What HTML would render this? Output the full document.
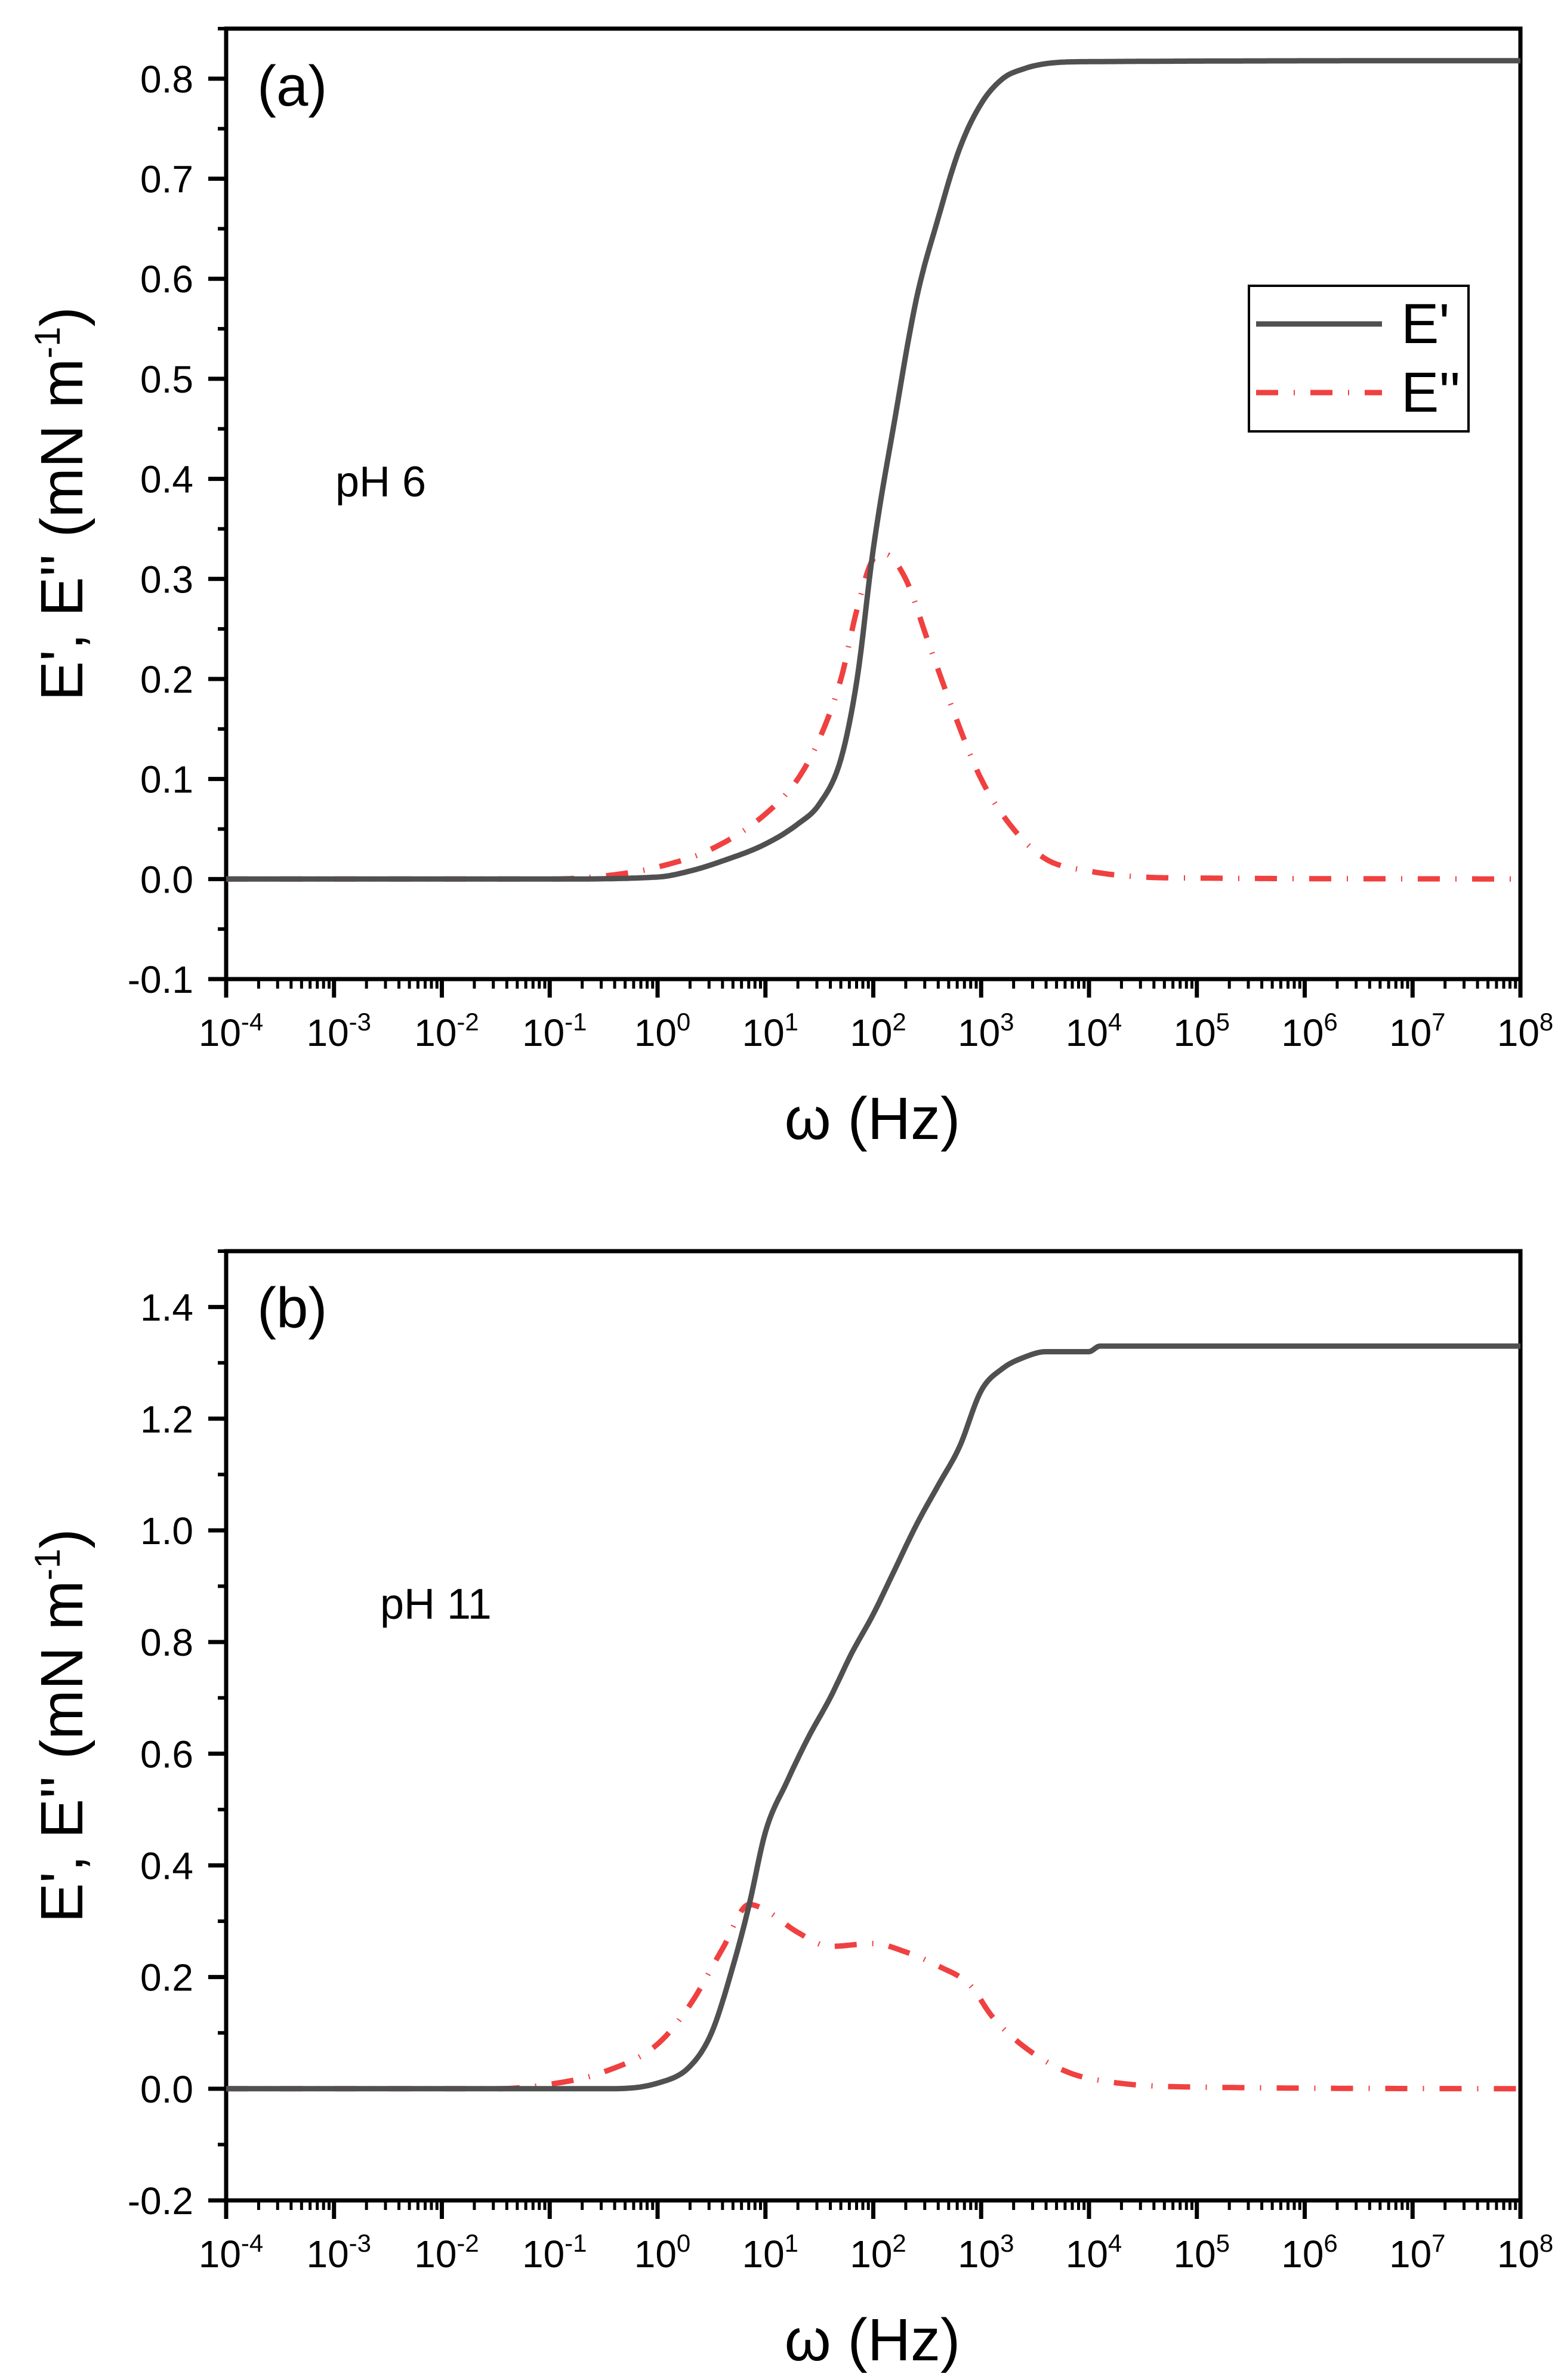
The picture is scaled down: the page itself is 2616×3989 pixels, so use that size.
<!DOCTYPE html>
<html><head><meta charset="utf-8">
<style>
html,body{margin:0;padding:0;background:#fff;}
svg{display:block;font-family:"Liberation Sans",Arial,sans-serif;}
</style></head>
<body>
<svg id="fig" xmlns="http://www.w3.org/2000/svg" width="2616" height="3989" viewBox="0 0 2616 3989"></svg>
<script>
// ---- data (log10 ω, value) ----
const aLogW_Ep  = [-4,-1,0,0.3,0.6,1,1.3,1.5,1.7,1.85,2,2.2,2.4,2.6,2.8,3,3.2,3.4,3.6,4,8];
const aVal_Ep   = [0,0,0.002,0.008,0.018,0.035,0.055,0.075,0.12,0.2,0.33,0.46,0.58,0.66,0.73,0.775,0.8,0.81,0.815,0.817,0.818];
const aLogW_Epp = [-4,-1,-0.5,0,0.5,1,1.3,1.5,1.7,1.85,2,2.1,2.3,2.5,2.7,3,3.3,3.6,4,4.5,5,8];
const aVal_Epp  = [0,0,0.003,0.012,0.03,0.065,0.1,0.14,0.2,0.27,0.32,0.325,0.3,0.24,0.18,0.1,0.05,0.02,0.008,0.002,0.001,0];
const bLogW_Ep  = [-4,-0.5,0,0.3,0.5,0.7,0.85,1,1.2,1.4,1.6,1.8,2,2.2,2.4,2.6,2.8,3,3.2,3.4,3.6,4,4.1,8];
const bVal_Ep   = [0,0,0.01,0.04,0.1,0.22,0.33,0.46,0.55,0.63,0.7,0.78,0.85,0.93,1.01,1.08,1.15,1.25,1.29,1.31,1.32,1.32,1.33,1.33];
const bLogW_Epp = [-4,-1.5,-1,-0.5,0,0.3,0.6,0.85,1,1.3,1.6,2,2.3,2.6,2.9,3.1,3.4,3.8,4.2,5,8];
const bVal_Epp  = [0,0,0.008,0.03,0.08,0.15,0.25,0.33,0.32,0.28,0.255,0.26,0.245,0.22,0.185,0.13,0.075,0.03,0.012,0.003,0];
const xTickExps = [-4,-3,-2,-1,0,1,2,3,4,5,6,7,8];
const aYTicks = [-0.1,0,0.1,0.2,0.3,0.4,0.5,0.6,0.7,0.8];
const bYTicks = [-0.2,0,0.2,0.4,0.6,0.8,1.0,1.2,1.4];

const NS="http://www.w3.org/2000/svg";
const svg=document.getElementById('fig');
function el(tag,attrs,parent,text){const e=document.createElementNS(NS,tag);for(const k in attrs)e.setAttribute(k,attrs[k]);if(text!==undefined)e.textContent=text;(parent||svg).appendChild(e);return e;}

const X0=379,X1=2548;
function xs(l){return X0+(l+4)/12*(X1-X0);}

// monotone cubic (Fritsch–Carlson) sampling of the data
function monotone(xa,ya,step){
  const n=xa.length,d=[],m=new Array(n);
  for(let i=0;i<n-1;i++)d.push((ya[i+1]-ya[i])/(xa[i+1]-xa[i]));
  m[0]=d[0];m[n-1]=d[n-2];
  for(let i=1;i<n-1;i++){m[i]=(d[i-1]*d[i]<=0)?0:(d[i-1]+d[i])/2;}
  for(let i=0;i<n-1;i++){
    if(d[i]===0){m[i]=0;m[i+1]=0;continue;}
    const a=m[i]/d[i],b=m[i+1]/d[i],s=a*a+b*b;
    if(s>9){const t=3/Math.sqrt(s);m[i]=t*a*d[i];m[i+1]=t*b*d[i];}
  }
  const out=[];
  for(let i=0;i<n-1;i++){
    const h=xa[i+1]-xa[i],k=Math.max(1,Math.ceil(h/step));
    for(let j=0;j<k;j++){
      const t=j/k,t2=t*t,t3=t2*t;
      const y=(2*t3-3*t2+1)*ya[i]+(t3-2*t2+t)*h*m[i]+(-2*t3+3*t2)*ya[i+1]+(t3-t2)*h*m[i+1];
      out.push([xa[i]+t*h,y]);
    }
  }
  out.push([xa[n-1],ya[n-1]]);
  return out;
}

function panel(cfg){
  const g=el('g',{},svg);
  
  
  const ys=v=>cfg.yBot+(v-cfg.ymin)/(cfg.ymax-cfg.ymin)*(cfg.yTop-cfg.yBot);
  const fr=el('rect',{x:X0,y:cfg.yTop,width:X1-X0,height:cfg.yBot-cfg.yTop,fill:'none',stroke:'#000','stroke-width':7},g);
  
  
  xTickExps.forEach((e,i)=>{
    const x=xs(e);
    const t=el('line',{x1:x,x2:x,y1:cfg.yBot,y2:cfg.yBot+31,stroke:'#000','stroke-width':7},g);
    
    
    const lb=el('text',{x:x+8,y:cfg.yBot+112,'font-size':64,'text-anchor':'middle'},g);
    
    
    el('tspan',{},lb,'10');
    el('tspan',{'font-size':42,dy:-26},lb,String(e));
    if(i<xTickExps.length-1){
      for(let m=2;m<=9;m++){
        const xm=xs(e+Math.log10(m));
        const mt=el('line',{x1:xm,x2:xm,y1:cfg.yBot,y2:cfg.yBot+16,stroke:'#000','stroke-width':5},g);
        
        
      }
    }
  });
  cfg.yTicks.forEach((v,i)=>{
    const y=ys(v);
    const t=el('line',{x1:X0-30,x2:X0,y1:y,y2:y,stroke:'#000','stroke-width':7},g);
    
    
    const lb=el('text',{x:324,y:y+23,'font-size':64,'text-anchor':'end'},g,v.toFixed(1));
    
    
  });
  for(let v=cfg.ymin+cfg.minor;v<cfg.ymax+1e-9;v+=cfg.minor){
    const y=ys(v);
    const mt=el('line',{x1:X0-14,x2:X0,y1:y,y2:y,stroke:'#000','stroke-width':6},g);
    
    
  }
  const mk=(lx,vy)=>monotone(lx,vy,0.02).map(p=>xs(p[0]).toFixed(1)+','+ys(p[1]).toFixed(1)).join(' ');
  const s2=el('polyline',{points:mk(cfg.eppX,cfg.eppY),fill:'none',stroke:'#f04040','stroke-width':9,'stroke-dasharray':'37 26 2 26'},g);
  
  
  const s1=el('polyline',{points:mk(cfg.epX,cfg.epY),fill:'none',stroke:'#505050','stroke-width':9,'stroke-linejoin':'round'},g);
  
  
  const xt=el('text',{x:1462,y:cfg.yBot+268,'font-size':100,'text-anchor':'middle'},g,'ω (Hz)');
  
  
  const cy=(cfg.yTop+cfg.yBot)/2;
  const yt=el('text',{x:0,y:0,'font-size':100,'text-anchor':'middle',transform:`translate(138,${cy}) rotate(-90)`},g);
  
  
  el('tspan',{},yt,"E', E'' (mN m");
  el('tspan',{'font-size':60,dy:-38},yt,'-1');
  el('tspan',{dy:38},yt,')');
  const pl=el('text',{x:431,y:cfg.panelBase,'font-size':96},g,cfg.panelLabel);
  
  
  const ph=el('text',{x:cfg.phX,y:cfg.phY,'font-size':72},g,cfg.ph);
  
  
}

panel({name:'panel-a',yTop:48,yBot:1641,ymin:-0.1,ymax:0.85,minor:0.05,yTicks:aYTicks,
  epX:aLogW_Ep,epY:aVal_Ep,eppX:aLogW_Epp,eppY:aVal_Epp,panelLabel:'(a)',panelBase:177,ph:'pH 6',phX:562,phY:832});
panel({name:'panel-b',yTop:2097,yBot:3688,ymin:-0.2,ymax:1.5,minor:0.1,yTicks:bYTicks,
  epX:bLogW_Ep,epY:bVal_Ep,eppX:bLogW_Epp,eppY:bVal_Epp,panelLabel:'(b)',panelBase:2225,ph:'pH 11',phX:637,phY:2713});

const lg=el('g',{},svg);


el('rect',{x:2093,y:479,width:368,height:244,fill:'#fff',stroke:'#000','stroke-width':4},lg);
const l1=el('line',{x1:2105,x2:2316,y1:543,y2:543,stroke:'#505050','stroke-width':9},lg);


const t1=el('text',{x:2348,y:575,'font-size':95},lg,"E'");


const l2=el('line',{x1:2105,x2:2316,y1:658,y2:658,stroke:'#f04040','stroke-width':9,'stroke-dasharray':'37 26 2 26'},lg);


const t2=el('text',{x:2348,y:690,'font-size':95},lg,"E''");


</script>
</body></html>
